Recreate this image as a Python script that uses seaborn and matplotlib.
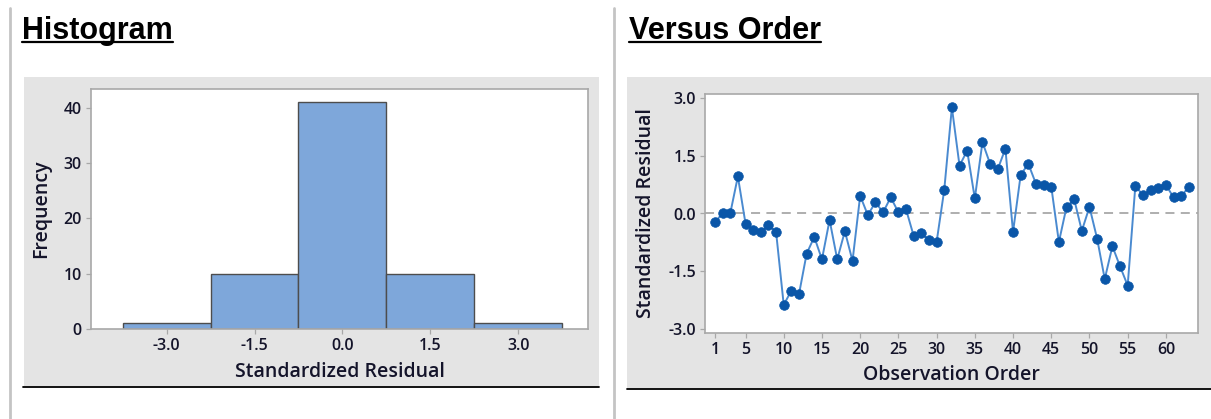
import numpy as np
import pandas as pd
import seaborn as sns
import matplotlib
matplotlib.use("Agg")
import matplotlib.pyplot as plt
from matplotlib.patches import Rectangle
from matplotlib.lines import Line2D

# ---------------- data ----------------
observation_order = list(range(1, 64))
std_residuals = [
    -0.22, 0.00, 0.00, 0.96, -0.26, -0.43, -0.48, -0.29, -0.48, -2.37,
    -2.00, -2.09, -1.04, -0.61, -1.19, -0.17, -1.19, -0.46, -1.23, 0.46,
    -0.04, 0.29, 0.03, 0.42, 0.03, 0.11, -0.58, -0.50, -0.70, -0.74,
    0.61, 2.75, 1.24, 1.63, 0.39, 1.85, 1.29, 1.15, 1.68, -0.48,
    1.00, 1.29, 0.77, 0.74, 0.70, -0.74, 0.17, 0.37, -0.45, 0.17,
    -0.65, -1.70, -0.85, -1.37, -1.87, 0.71, 0.48, 0.61, 0.65, 0.74,
    0.42, 0.46, 0.68,
]
hist_bin_edges = [-3.75, -2.25, -0.75, 0.75, 2.25, 3.75]
hist_xticks = [-3.0, -1.5, 0.0, 1.5, 3.0]
hist_yticks = [0, 10, 20, 30, 40]
order_xticks = [1, 5, 10, 15, 20, 25, 30, 35, 40, 45, 50, 55, 60]
order_yticks = [-3.0, -1.5, 0.0, 1.5, 3.0]

df = pd.DataFrame({"order": observation_order, "resid": std_residuals})

# ---------------- style ----------------
sns.set_theme(style="white")
plt.rcParams["font.family"] = ["Open Sans", "Noto Sans", "DejaVu Sans"]
plt.rcParams["axes.unicode_minus"] = False

W, H = 1211, 419
fig = plt.figure(figsize=(W / 100, H / 100), dpi=100)
fig.patch.set_facecolor("white")

def fx(px):
    return px / W

def fy(py):
    return 1 - py / H

# panel backgrounds
PANEL_GRAY = "#e4e4e4"
fig.add_artist(Rectangle((fx(24), fy(386)), fx(599) - fx(24), fy(77) - fy(386),
                         transform=fig.transFigure, facecolor=PANEL_GRAY,
                         edgecolor="none", zorder=0))
fig.add_artist(Rectangle((fx(627), fy(388)), fx(1211) - fx(627), fy(77) - fy(388),
                         transform=fig.transFigure, facecolor=PANEL_GRAY,
                         edgecolor="none", zorder=0))
# black rules under panels
fig.add_artist(Line2D([fx(23), fx(599)], [fy(387), fy(387)], transform=fig.transFigure,
                      color="black", lw=1.3))
fig.add_artist(Line2D([fx(627), fx(1211)], [fy(389), fy(389)], transform=fig.transFigure,
                      color="black", lw=1.3))
# vertical separators
for xv in (10, 613.5):
    fig.add_artist(Line2D([fx(xv), fx(xv)], [0, fy(8)], transform=fig.transFigure,
                          color="#c4c4c4", lw=2))

TXT = "#14142a"
SPINE = "#a8a8a8"
LABEL_KW = dict(fontsize=14, color=TXT, fontweight="semibold")

# ---------------- Histogram ----------------
ax1 = fig.add_axes([fx(91), fy(329), fx(588) - fx(91), fy(89) - fy(329)])
sns.histplot(x=df["resid"], bins=hist_bin_edges, ax=ax1, color="#7ea7da",
             edgecolor="#4d4d4d", linewidth=1.0, alpha=1.0)
ax1.set_xlim(-4.29, 4.19)
ax1.set_ylim(0, 43.4)
ax1.set_xticks(hist_xticks)
ax1.set_xticklabels([f"{v:.1f}" for v in hist_xticks])
ax1.set_yticks(hist_yticks)
ax1.set_yticklabels([str(v) for v in hist_yticks])
ax1.set_xlabel("Standardized Residual", labelpad=6, **LABEL_KW)
ax1.set_ylabel("Frequency", labelpad=9, **LABEL_KW)

# ---------------- Versus Order ----------------
ax2 = fig.add_axes([fx(705), fy(333), fx(1198) - fx(705), fy(94) - fy(333)])
ax2.axhline(0, color="#a8a8a8", lw=1.3, ls=(0, (5, 3.5)), zorder=1)
sns.lineplot(data=df, x="order", y="resid", ax=ax2, color="#4a8ad0", lw=1.4, zorder=2)
sns.scatterplot(data=df, x="order", y="resid", ax=ax2, color="#0a56a8", s=48,
                edgecolor="#0a56a8", linewidth=0.5, zorder=3)
ax2.set_xlim(-0.3, 64.2)
ax2.set_ylim(-3.1, 3.1)
ax2.set_xticks(order_xticks)
ax2.set_xticklabels([str(v) for v in order_xticks])
ax2.set_yticks(order_yticks)
ax2.set_yticklabels([f"{v:.1f}" for v in order_yticks])
ax2.set_xlabel("Observation Order", labelpad=5, **LABEL_KW)
ax2.set_ylabel("Standardized Residual", labelpad=9, **LABEL_KW)

for ax in (ax1, ax2):
    ax.set_facecolor("white")
    for sp in ax.spines.values():
        sp.set_color(SPINE)
        sp.set_linewidth(1.2)
        sp.set_visible(True)
    ax.tick_params(axis="both", which="both", direction="out", length=3.5, width=0.9,
                   color=SPINE, labelsize=11.5, labelcolor=TXT, pad=3,
                   bottom=True, left=True)
    for lab in ax.get_xticklabels() + ax.get_yticklabels():
        lab.set_fontweight("semibold")

# ---------------- titles with underline ----------------
TITLE_KW = dict(fontsize=22, fontweight="bold", family=["Liberation Sans", "DejaVu Sans"],
                color="black", va="baseline", ha="left")
t1 = fig.text(fx(22), fy(39), "Histogram", **TITLE_KW)
t2 = fig.text(fx(629), fy(39), "Versus Order", **TITLE_KW)
fig.canvas.draw()
renderer = fig.canvas.get_renderer()
for t in (t1, t2):
    bb = t.get_window_extent(renderer=renderer)
    x0, x1 = bb.x0 / W, bb.x1 / W
    fig.add_artist(Line2D([x0, x1], [fy(42.5), fy(42.5)], transform=fig.transFigure,
                          color="black", lw=1.6))

fig.savefig("out.png", dpi=100, facecolor="white")
